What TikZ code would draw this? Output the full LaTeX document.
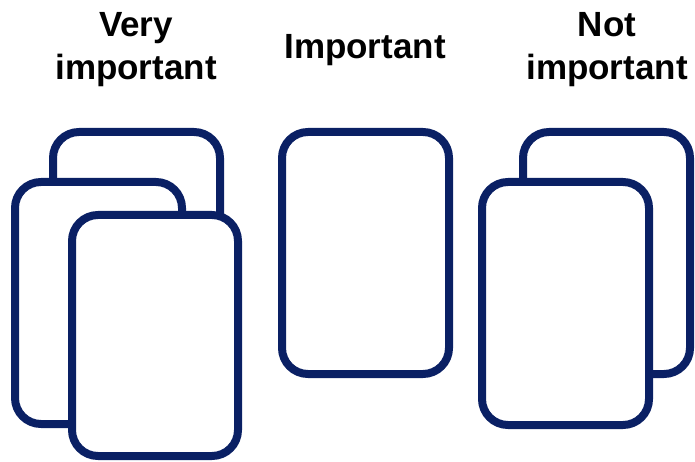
\documentclass[tikz,border=0pt]{standalone}
\usepackage{fontspec}
\setmainfont{Liberation Sans}
\definecolor{navy}{RGB}{10,32,100}
\begin{document}
\begin{tikzpicture}[x=1pt,y=-1pt,
  card/.style={draw=navy,fill=white,line width=8pt,rounded corners=26pt},
  lbl/.style={font=\fontsize{35}{43}\selectfont\bfseries,align=center,anchor=base,inner sep=0pt}]
\useasboundingbox (0,0) rectangle (695,462);
% left group
\draw[card] (53,132) rectangle (220,300);
\draw[card] (15,182) rectangle (182,424);
\draw[card] (72,215) rectangle (238,456);
% middle
\draw[card] (282,132) rectangle (449,374);
% right group
\draw[card] (523,132) rectangle (690,374);
\draw[card] (482,182) rectangle (649,425);
% labels
\node[lbl] (l1) at (136,37) {Very};
\node[lbl] (l1b) at (136,80) {important};
\node[lbl] (l2) at (365,59) {Important};
\node[lbl] (l3) at (607,37) {Not};
\node[lbl] (l3b) at (607,80) {important};
\end{tikzpicture}
\end{document}
